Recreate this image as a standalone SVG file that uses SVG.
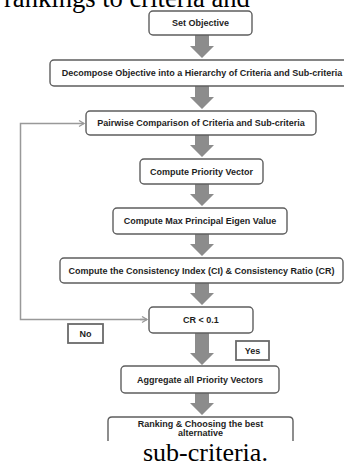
<svg xmlns="http://www.w3.org/2000/svg" width="344" height="467" viewBox="0 0 344 467">
<style>
.box{fill:#fff;stroke:#5e5e5e;stroke-width:1.4}
.lbl{fill:#fff;stroke:#6a6a6a;stroke-width:1.8}
.t{font-family:"Liberation Sans",Arial,sans-serif;font-weight:bold;font-size:9px;fill:#1e1e1e;text-anchor:middle}
.arr{fill:#8c8c8c}
.fb{fill:none;stroke:#999;stroke-width:1.5}
.serif{font-family:"Liberation Serif","Times New Roman",serif;font-size:26.6px;fill:#000}
</style>
<defs>
<marker id="chev" markerWidth="8" markerHeight="8" refX="6" refY="4" orient="auto" markerUnits="userSpaceOnUse">
<path d="M1,1 L6,4 L1,7" fill="none" stroke="#999" stroke-width="1.3"/>
</marker>
</defs>
<rect width="344" height="467" fill="#fff"/>
<text class="serif" x="4" y="7">rankings to criteria and</text>
<g id="connectors">
<path class="arr" d="M195,35 H209 V46 H214 L202,58 L190,46 H195 Z"/>
<path class="arr" d="M195,86 H209 V97 H214 L202,109 L190,97 H195 Z"/>
<path class="arr" d="M195,135 H209 V145 H214 L202,157 L190,145 H195 Z"/>
<path class="arr" d="M195,184 H209 V194 H214 L202,206 L190,194 H195 Z"/>
<path class="arr" d="M195,234 H209 V244 H214 L202,256 L190,244 H195 Z"/>
<path class="arr" d="M195,283 H209 V293 H214 L202,305 L190,293 H195 Z"/>
<path class="arr" d="M195,333 H209 V353 H214 L202,365 L190,353 H195 Z"/>
<path class="arr" d="M195,393 H209 V403 H214 L202,415 L190,403 H195 Z"/>
<path class="fb" d="M147,319.5 H20.5 V123.5 H84" marker-end="url(#chev)"/>
<path class="fb" d="M140,319.5 H147" marker-end="url(#chev)"/>
</g>
<g id="n1"><rect class="box" x="149" y="11" width="103" height="24" rx="4"/><text class="t" x="200.5" y="26.2">Set Objective</text></g>
<g id="n2"><rect class="box" x="50" y="60" width="304" height="26" rx="4"/><text class="t" x="202" y="76.2">Decompose Objective into a Hierarchy of Criteria and Sub-criteria</text></g>
<g id="n3"><rect class="box" x="86" y="111" width="230" height="24" rx="4"/><text class="t" x="201" y="126.2">Pairwise Comparison of Criteria and Sub-criteria</text></g>
<g id="n4"><rect class="box" x="140" y="159" width="123" height="25" rx="4"/><text class="t" x="201.5" y="174.7">Compute Priority Vector</text></g>
<g id="n5"><rect class="box" x="113" y="208" width="174" height="26" rx="4"/><text class="t" x="200" y="224.2">Compute Max Principal Eigen Value</text></g>
<g id="n6"><rect class="box" x="60" y="258" width="283" height="25" rx="4"/><text class="t" x="201.5" y="273.7">Compute the Consistency Index (CI) &amp; Consistency Ratio (CR)</text></g>
<g id="n7"><rect class="box" x="149" y="307" width="104" height="26" rx="4"/><text class="t" x="201" y="323.2">CR &lt; 0.1</text></g>
<g id="no"><rect class="lbl" x="68" y="324" width="35" height="19"/><text class="t" x="85.5" y="336.8">No</text></g>
<g id="yes"><rect class="lbl" x="236" y="341" width="33" height="19"/><text class="t" x="252.5" y="353.8">Yes</text></g>
<g id="n8"><rect class="box" x="121" y="366" width="158" height="27" rx="4"/><text class="t" x="200" y="382.7">Aggregate all Priority Vectors</text></g>
<g id="n9"><path class="box" d="M108,441 V421 Q108,417 112,417 H289 Q293,417 293,421 V441"/><text class="t" x="200.5" y="427.2">Ranking &amp; Choosing the best</text><text class="t" x="200.5" y="436">alternative</text></g>
<text class="serif" x="143" y="461.3" style="font-size:26px">sub-criteria.</text>
</svg>
